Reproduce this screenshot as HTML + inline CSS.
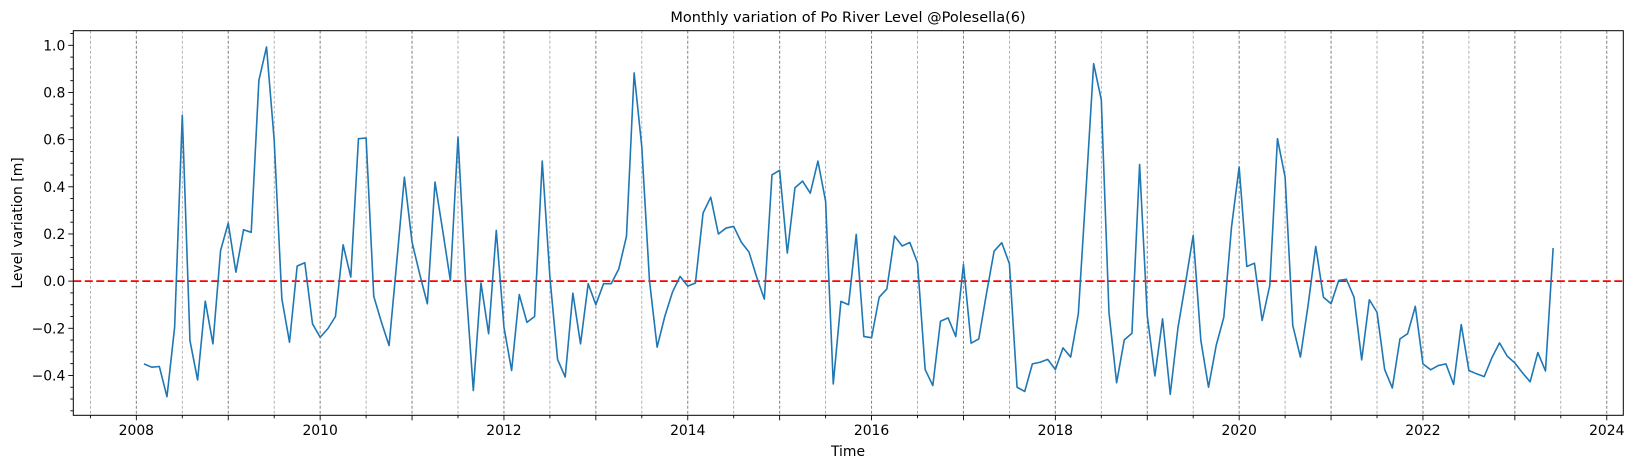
<!DOCTYPE html>
<html><head><meta charset="utf-8"><style>
body{margin:0;background:#fff;}
svg{display:block;font-family:"DejaVu Sans","Liberation Sans",sans-serif;}
</style></head><body>
<svg id="chart" width="1634" height="468" viewBox="0 0 1634 468" xmlns="http://www.w3.org/2000/svg">
<rect x="0" y="0" width="1634" height="468" fill="#fff"/>
<g id="grid"></g>
<g id="ticks"></g>
<g id="marks"></g>
<rect x="73.3" y="30.7" width="1550" height="384.6" fill="none" stroke="#000" stroke-width="1"/>
<text x="848" y="22" text-anchor="middle" font-size="14.5" fill="#000">Monthly variation of Po River Level @Polesella(6)</text>
<text x="848" y="456" text-anchor="middle" font-size="13.9" fill="#000">Time</text>
<text transform="translate(22,223) rotate(-90)" text-anchor="middle" font-size="13.9" fill="#000">Level variation [m]</text>
</svg>
<script>
const startYear = 2008;
const levelValues = [-0.351,-0.365,-0.362,-0.49,-0.195,0.703,-0.252,-0.419,-0.085,-0.266,0.13,0.246,
0.038,0.218,0.207,0.851,0.993,0.597,-0.075,-0.259,0.064,0.078,-0.181,-0.238,
-0.202,-0.15,0.154,0.017,0.604,0.607,-0.064,-0.174,-0.273,0.08,0.441,0.165,
0.03,-0.096,0.42,0.215,0.003,0.611,-0.004,-0.464,-0.008,-0.223,0.215,-0.195,
-0.379,-0.057,-0.175,-0.15,0.509,0.017,-0.332,-0.407,-0.051,-0.266,-0.011,-0.1,
-0.011,-0.011,0.052,0.19,0.883,0.569,0.003,-0.28,-0.15,-0.047,0.02,-0.021,
-0.008,0.289,0.356,0.2,0.225,0.232,0.165,0.123,0.017,-0.076,0.451,0.47,
0.119,0.396,0.424,0.373,0.509,0.339,-0.436,-0.086,-0.1,0.198,-0.235,-0.24,
-0.068,-0.033,0.191,0.149,0.164,0.078,-0.375,-0.443,-0.17,-0.156,-0.235,0.071,
-0.263,-0.245,-0.054,0.127,0.163,0.074,-0.45,-0.468,-0.351,-0.344,-0.332,-0.375,
-0.283,-0.322,-0.139,0.385,0.922,0.769,-0.132,-0.431,-0.249,-0.221,0.495,-0.146,
-0.402,-0.16,-0.48,-0.2,-0.007,0.194,-0.252,-0.45,-0.273,-0.153,0.229,0.484,
0.062,0.076,-0.167,-0.018,0.604,0.441,-0.188,-0.322,-0.103,0.147,-0.068,-0.096,
0.003,0.008,-0.068,-0.334,-0.079,-0.132,-0.375,-0.453,-0.245,-0.223,-0.107,-0.351,
-0.376,-0.358,-0.351,-0.438,-0.184,-0.379,-0.393,-0.405,-0.325,-0.262,-0.318,-0.347,
-0.389,-0.427,-0.303,-0.381,0.14];
const xTickLabels = ["2008","2010","2012","2014","2016","2018","2020","2022","2024"];
const yTickLabels = ["−0.4","−0.2","0.0","0.2","0.4","0.6","0.8","1.0"];
const yTickValues = [-0.4,-0.2,0,0.2,0.4,0.6,0.8,1.0];

const NS="http://www.w3.org/2000/svg";
const X0=73.3,X1=1623.3,Y0=30.7,Y1=415.3;
const tMin=2007.314,tMax=2024.18,vMin=-0.569,vMax=1.062;
function xs(t){return X0+(t-tMin)/(tMax-tMin)*(X1-X0);}
function ys(v){return Y1-(v-vMin)/(vMax-vMin)*(Y1-Y0);}
function mk(tag,attrs,parent){const e=document.createElementNS(NS,tag);for(const k in attrs)e.setAttribute(k,attrs[k]);parent.appendChild(e);return e;}
const grid=document.getElementById('grid'),ticks=document.getElementById('ticks'),marks=document.getElementById('marks');

for(let t=2007.5;t<=2024.01;t+=0.5){
  const x=xs(t);const major=Math.abs(t-Math.round(t))<0.01;
  const g=mk('line',{x1:x,x2:x,y1:Y0,y2:Y1,stroke:major?'#808080':'#a0a0a0','stroke-width':major?1:0.8,'stroke-dasharray':'3,2'},grid);
  
  
  const tk=mk('line',{x1:x,x2:x,y1:Y1,y2:Y1+(major?5:3),stroke:'#000','stroke-width':0.9},ticks);
  
  
}
xTickLabels.forEach(l=>{
  const tx=mk('text',{x:xs(+l),y:435,'text-anchor':'middle','font-size':13.9,fill:'#000'},ticks);
  tx.textContent=l;
  
  
});
for(let v=-0.55;v<=1.051;v+=0.05){
  const y=ys(v);const major=Math.abs(v*5-Math.round(v*5))<0.01;
  const tk=mk('line',{x1:X0,x2:X0-(major?5:3),y1:y,y2:y,stroke:'#000','stroke-width':0.9},ticks);
  
  
}
yTickValues.forEach((v,i)=>{
  const tx=mk('text',{x:X0-8,y:ys(v)+5,'text-anchor':'end','font-size':13.9,fill:'#000'},ticks);
  tx.textContent=yTickLabels[i];
  
  
});
const zl=mk('line',{x1:X0,x2:X1,y1:ys(0),y2:ys(0),stroke:'#ff0000','stroke-width':1.8,'stroke-dasharray':'8,3.5'},marks);


const pts=levelValues.map((v,i)=>xs(startYear+(i+1)/12).toFixed(2)+','+ys(v).toFixed(2)).join(' ');
const pl=mk('polyline',{points:pts,fill:'none',stroke:'#1f77b4','stroke-width':1.6,'stroke-linejoin':'round'},marks);


</script>
</body></html>
